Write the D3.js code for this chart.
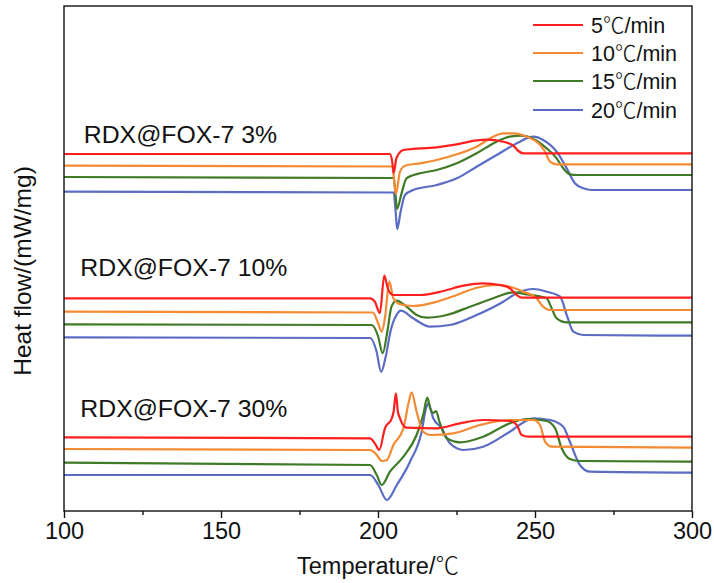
<!DOCTYPE html>
<html>
<head>
<meta charset="utf-8">
<script src="https://cdn.jsdelivr.net/npm/d3@7"></script>
<style>
  html, body { margin: 0; padding: 0; background: #fff; }
  svg { display: block; }
  text { font-family: "Liberation Sans", Arial, "Noto Sans CJK SC", sans-serif; fill: #111; }
  .cjk { font-family: "Noto Sans CJK SC", sans-serif; font-weight: 300; }
</style>
</head>
<body>
<svg id="chart" width="714" height="583"></svg>
<script>
// Heating rates and their line colours
const rates = ["5℃/min", "10℃/min", "15℃/min", "20℃/min"];
const rateColors = ["#ff1f1f", "#f58a32", "#3f7a26", "#5b6cc4"];

// Sample labels
const samples = ["RDX@FOX-7 3%", "RDX@FOX-7 10%", "RDX@FOX-7 30%"];

// X axis ticks (temperature, ℃)
const majorTicks = [100, 150, 200, 250, 300];
const minorTicks = [125, 175, 225, 275];

// DSC traces: [temperature ℃, heat flow (stacked, arbitrary offset units)]
const fox3_5 = [[100,357],[203.8,357],[204.5,350],[205.0,338],[205.8,352],[206.5,356.7],[208.1,361],[218.7,363.7],[225.1,366.7],[231.4,370.7],[234.6,371.3],[239.9,369.3],[243.1,365.3],[244.7,360],[246.3,357.7],[300,357.7]];
const fox3_10 = [[100,345.3],[204.6,344.5],[205.0,335],[205.7,317],[207.0,339.3],[208.6,345.3],[213.4,347.7],[218.7,351],[225.1,356.7],[231.4,364.3],[236.7,374.3],[239.9,377.7],[243.1,377.7],[247.4,374.3],[251.1,367.7],[253.2,359.3],[254.8,349.3],[256.9,346.7],[300,346.7]];
const fox3_15 = [[100,334],[205.0,333],[205.5,320],[206.0,302],[207.5,317.7],[209.1,332.7],[213.4,337.7],[218.7,341],[225.1,347.7],[231.4,357.7],[237.8,369.3],[242.0,374.3],[245.8,375.3],[249.5,372],[253.7,362.7],[256.9,352.7],[259.0,342.7],[261.1,336.7],[263.3,336],[300,336]];
const fox3_20 = [[100,319.3],[205.0,318.5],[205.6,300],[206.1,282],[207.2,299.3],[208.6,316],[211.2,321],[218.7,326],[225.1,332.7],[231.4,344.3],[237.8,356],[244.2,367.7],[249.5,374.3],[252.6,371],[256.9,359.3],[260.1,342.7],[262.7,327.7],[265.4,322.7],[268,321],[300,321]];

const fox10_5 = [[100,212.7],[197.5,212.7],[199.0,209.3],[200.6,198],[202.0,235.3],[203.3,221],[204.9,216],[213.4,216],[220.8,220],[227.2,225.3],[233.5,227.7],[238.9,226],[242.0,222.7],[244.2,216],[245.8,213.3],[300,213.3]];
const fox10_10 = [[100,199.3],[198.4,198.5],[200.0,188],[201.2,179.3],[202.3,195],[203.6,229.3],[204.9,212.7],[207.0,206.7],[211.2,205],[218.7,209.3],[225.1,216],[231.4,223.3],[237.8,226],[242.0,224.3],[246.3,219.3],[250.5,212.7],[252.6,204.3],[254.8,201],[300,201]];
const fox10_15 = [[100,186.7],[198.0,186],[200.0,175],[201.5,157.7],[203.0,180],[204.3,204.3],[205.9,210.3],[209.1,204.3],[212.3,196],[215.5,193.3],[221.9,196],[229.3,204.3],[236.7,212.7],[243.1,218.7],[247.4,216.7],[253.7,212.7],[255.3,202.7],[256.9,192.7],[260.1,188.7],[300,188.7]];
const fox10_20 = [[100,173.7],[197.5,173],[199.5,160],[201.0,139],[202.5,155],[204.0,180],[205.9,196],[207.3,200.3],[211.2,192.7],[216.6,184.3],[222.9,186],[231.4,196],[239.9,209.3],[244.2,217.7],[249.5,222],[253.7,219.3],[258.0,214.3],[260.1,196],[262.2,179.3],[265.4,176],[300,175.3]];

const fox30_5 = [[100,73.7],[197.5,72.7],[199.0,67.7],[200.4,61],[202.2,82.7],[204.4,92.7],[205.0,100],[205.7,117.7],[206.3,100],[207.0,92.7],[209.1,83.3],[218.7,82.7],[226.1,87.7],[233.5,91],[242.0,90],[244.2,86],[245.8,76],[247.9,74.3],[300,74.3]];
const fox30_10 = [[100,62],[197.5,61],[199.6,56],[201.2,50],[202.8,51],[204.9,66],[208.1,82.7],[209.6,106],[210.7,118.7],[212.3,99.3],[214.4,79.3],[216.6,76],[224.0,77.7],[232.5,86],[242.0,91],[249.5,91],[251.6,86],[253.2,69.3],[255.3,64.3],[300,63.3]];
const fox30_15 = [[100,48.3],[197.5,46],[199.6,36],[201.2,26],[203.8,39.3],[208.1,54.3],[212.3,76],[214.4,96],[215.7,113.3],[216.8,101],[217.6,98],[218.5,100],[219.5,90],[221.9,72.7],[226.1,68.7],[233.5,74.3],[242.0,87.7],[247.4,92],[253.7,90],[256.4,82.7],[258.5,62.7],[261.1,52],[264.3,50],[300,49.3]];
const fox30_20 = [[100,36],[197.5,36],[200.1,26],[202.8,11],[206.0,26],[210.2,49.3],[213.9,79.3],[215.3,102.7],[216.0,107.7],[217.6,92.7],[220.3,82.7],[222.9,67.7],[227.2,61],[233.5,64.3],[242.0,79.3],[249.5,92.7],[254.8,91],[259.0,84.3],[261.1,69.3],[264.3,46],[267.5,39.3],[300,38.3]];

// Curves grouped by sample, in rate order
const traces = [
  [fox3_5, fox3_10, fox3_15, fox3_20],
  [fox10_5, fox10_10, fox10_15, fox10_20],
  [fox30_5, fox30_10, fox30_15, fox30_20]
];
// Heat-flow level at which each sample label sits
const labelLevels = [368, 235, 94];

const svg = d3.select("#chart");
const margin = { left: 64, right: 22, top: 6, bottom: 72 };
const W = 714, H = 583;
const x = d3.scaleLinear().domain([100, 300]).range([margin.left, W - margin.right]);
const y = d3.scaleLinear().domain([0, 505]).range([H - margin.bottom, margin.top]);

// Write a string into a text node, setting the degree-Celsius sign in a CJK face
function setText(sel, str) {
  str.split(/(℃)/).filter(s => s.length).forEach(part => {
    const t = sel.append("tspan").text(part);
    if (part === "℃") t.attr("class", "cjk");
  });
  return sel;
}

svg.append("clipPath").attr("id", "plot-clip")
  .append("rect")
  .attr("x", x(100)).attr("y", y(505))
  .attr("width", x(300) - x(100)).attr("height", y(0) - y(505));

const line = d3.line()
  .x(d => x(d[0]))
  .y(d => y(d[1]))
  .curve(d3.curveMonotoneX);

const plot = svg.append("g").attr("clip-path", "url(#plot-clip)");
traces.forEach(group => {
  // draw slowest rate last so it sits on top
  group.slice().reverse().forEach((data, i) => {
    const ri = group.length - 1 - i;
    plot.append("path")
      .datum(data)
      .attr("d", line)
      .attr("fill", "none")
      .attr("stroke", rateColors[ri])
      .attr("stroke-width", 2.2)
      .attr("stroke-linejoin", "round");
  });
});

// Sample labels
samples.forEach((s, i) => {
  svg.append("text")
    .attr("x", i === 0 ? x(106.3) : x(105.2))
    .attr("y", y(labelLevels[i]))
    .attr("font-size", 24.8)
    .text(s);
});

// Frame
svg.append("rect")
  .attr("x", x(100)).attr("y", y(505))
  .attr("width", x(300) - x(100)).attr("height", y(0) - y(505))
  .attr("fill", "none").attr("stroke", "#111").attr("stroke-width", 1.4);

// Bottom axis with major and minor ticks
const xAxis = d3.axisBottom(x).tickValues(majorTicks).tickSize(7).tickPadding(4).tickFormat(d3.format("d"));
const gx = svg.append("g").attr("transform", `translate(0,${y(0)})`).call(xAxis);
gx.select(".domain").remove();
gx.selectAll(".tick line").attr("stroke", "#111").attr("stroke-width", 1.4);
gx.selectAll(".tick text")
  .attr("font-size", 23.5)
  .attr("font-family", "'Liberation Sans', Arial, sans-serif")
  .attr("fill", "#111");
const xMinor = d3.axisBottom(x).tickValues(minorTicks).tickSize(4).tickFormat("");
const gm = svg.append("g").attr("transform", `translate(0,${y(0)})`).call(xMinor);
gm.select(".domain").remove();
gm.selectAll(".tick line").attr("stroke", "#111").attr("stroke-width", 1.4);

// Axis titles
setText(svg.append("text")
  .attr("x", x(200)).attr("y", 574)
  .attr("text-anchor", "middle")
  .attr("font-size", 23.5), "Temperature/℃");
svg.append("text")
  .attr("transform", `translate(31,271) rotate(-90)`)
  .attr("text-anchor", "middle")
  .attr("font-size", 24.5)
  .text("Heat flow/(mW/mg)");

// Legend
const legendRows = [25, 53, 81, 110];
const lg = svg.append("g");
rates.forEach((r, i) => {
  lg.append("line")
    .attr("x1", 533).attr("x2", 583)
    .attr("y1", legendRows[i]).attr("y2", legendRows[i])
    .attr("stroke", rateColors[i]).attr("stroke-width", 2.2);
  setText(lg.append("text")
    .attr("x", 591).attr("y", legendRows[i] + 8)
    .attr("font-size", 21.5), r);
});
</script>
</body>
</html>
